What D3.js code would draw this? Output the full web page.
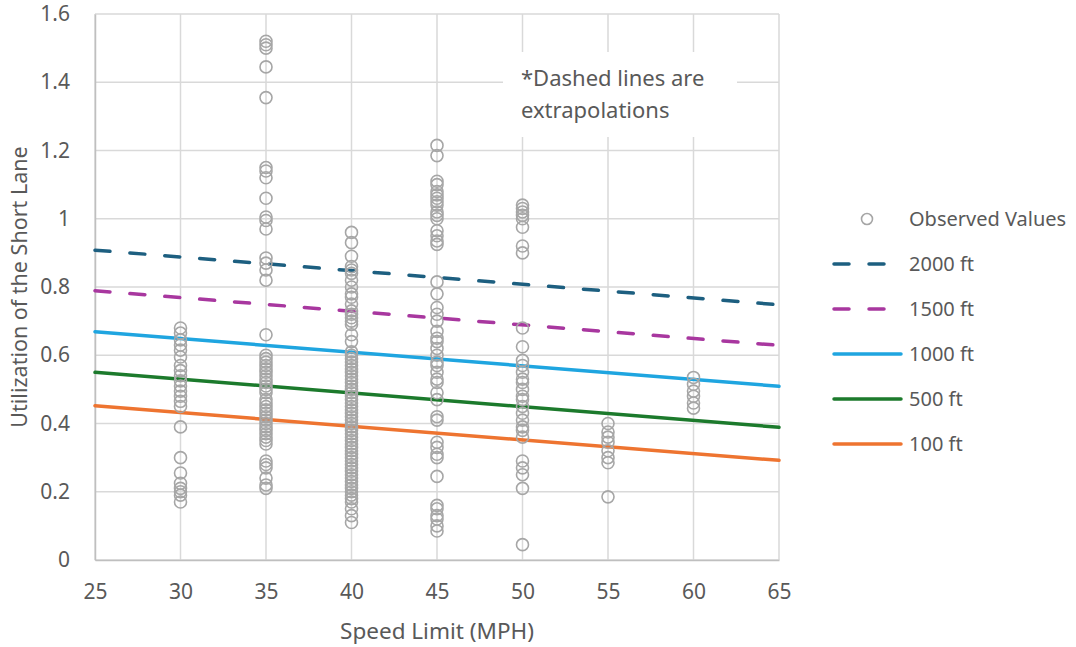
<!DOCTYPE html>
<html>
<head>
<meta charset="utf-8">
<script src="https://cdn.jsdelivr.net/npm/d3@7"></script>
<style>
  html, body { margin: 0; padding: 0; background: #ffffff; }
  svg { display: block; }
  text { font-family: "Noto Sans", "DejaVu Sans", sans-serif; fill: #595959; }
</style>
</head>
<body>
<svg id="chart" width="1076" height="647"></svg>
<script>
// Observed short-lane utilization, grouped by posted speed limit
const speeds = [30, 35, 40, 45, 50, 55, 60];
const obs30 = [0.68, 0.665, 0.645, 0.63, 0.615, 0.595, 0.57, 0.555, 0.54, 0.525, 0.51, 0.495, 0.48, 0.465, 0.45,
               0.39, 0.30, 0.255, 0.225, 0.21, 0.20, 0.19, 0.17];
const obs35 = [1.52, 1.51, 1.50, 1.445, 1.355, 1.15, 1.14, 1.12, 1.06, 1.005, 0.995, 0.97,
               0.885, 0.87, 0.85, 0.82, 0.66,
               0.60, 0.59, 0.58, 0.57, 0.56, 0.55, 0.54, 0.53, 0.52, 0.51, 0.50, 0.49,
               0.47, 0.46, 0.45, 0.44, 0.43, 0.42, 0.41, 0.40, 0.39, 0.38, 0.37, 0.36, 0.35, 0.34,
               0.29, 0.28, 0.27, 0.24, 0.22, 0.21];
const obs40 = [0.96, 0.93, 0.89, 0.86, 0.85, 0.84, 0.82, 0.80, 0.78, 0.77, 0.75, 0.73, 0.72, 0.71, 0.70, 0.69,
               0.66, 0.64, 0.61, 0.60, 0.59, 0.58, 0.57, 0.56, 0.55, 0.54, 0.53, 0.52, 0.51, 0.50, 0.49,
               0.48, 0.47, 0.46, 0.45, 0.44, 0.43, 0.42, 0.41, 0.40, 0.39, 0.38, 0.37, 0.36, 0.35, 0.34,
               0.33, 0.32, 0.31, 0.30, 0.29, 0.28, 0.27, 0.26, 0.25, 0.24, 0.23, 0.22, 0.21, 0.20, 0.19,
               0.18, 0.17, 0.15, 0.13, 0.11];
const obs45 = [1.215, 1.185, 1.11, 1.10, 1.08, 1.07, 1.06, 1.05, 1.04, 1.02, 1.01, 1.00,
               0.965, 0.95, 0.935, 0.925, 0.815, 0.78, 0.74, 0.72, 0.70,
               0.67, 0.65, 0.64, 0.62, 0.60, 0.58, 0.57, 0.55, 0.53, 0.52,
               0.49, 0.47, 0.42, 0.41, 0.345, 0.33, 0.31, 0.30, 0.245,
               0.16, 0.15, 0.13, 0.12, 0.10, 0.085];
const obs50 = [1.04, 1.03, 1.02, 1.01, 1.00, 0.975, 0.92, 0.90, 0.68, 0.625,
               0.585, 0.57, 0.55, 0.53, 0.52, 0.50, 0.48, 0.47, 0.45, 0.43, 0.41, 0.39, 0.38, 0.36,
               0.29, 0.27, 0.25, 0.21, 0.045];
const obs55 = [0.40, 0.375, 0.36, 0.345, 0.32, 0.30, 0.285, 0.185];
const obs60 = [0.535, 0.515, 0.495, 0.48, 0.46, 0.445];
const observed = [obs30, obs35, obs40, obs45, obs50, obs55, obs60];

// Fitted lines by storage length (value at 25 and 65 mph)
const lineNames = ["2000 ft", "1500 ft", "1000 ft", "500 ft", "100 ft"];
const lineAt25 = [0.908, 0.789, 0.669, 0.550, 0.452];
const lineAt65 = [0.748, 0.629, 0.509, 0.389, 0.292];
const lineColors = ["#1d5f80", "#a8379f", "#1fa5e0", "#1c7a2c", "#ee7430"];
const lineDashed = [true, true, false, false, false];

const xTicks = [25, 30, 35, 40, 45, 50, 55, 60, 65];
const yTicks = [0, 0.2, 0.4, 0.6, 0.8, 1, 1.2, 1.4, 1.6];

const svg = d3.select("#chart");
const x = d3.scaleLinear().domain([25, 65]).range([95, 779]);
const y = d3.scaleLinear().domain([0, 1.6]).range([560, 14]);

// Gridlines
const grid = svg.append("g");
grid.selectAll("line.h").data(yTicks).join("line")
  .attr("x1", x(25)).attr("x2", x(65))
  .attr("y1", d => y(d)).attr("y2", d => y(d))
  .attr("stroke", "#d9d9d9").attr("stroke-width", 1.5);
grid.selectAll("line.v").data(xTicks).join("line")
  .attr("y1", y(0)).attr("y2", y(1.6))
  .attr("x1", d => x(d)).attr("x2", d => x(d))
  .attr("stroke", "#d9d9d9").attr("stroke-width", 1.5);

// Axes (labels only; domain lines in a slightly darker grey)
const xAxis = svg.append("g").attr("transform", `translate(0,${y(0)})`)
  .call(d3.axisBottom(x).tickValues(xTicks).tickSize(0).tickPadding(24).tickFormat(d3.format("d")));
const yAxis = svg.append("g").attr("transform", `translate(${x(25)},0)`)
  .call(d3.axisLeft(y).tickValues(yTicks).tickSize(0).tickPadding(25).tickFormat(d => String(d)));
[xAxis, yAxis].forEach(a => {
  a.select(".domain").attr("stroke", "#bfbfbf").attr("stroke-width", 1.5);
  a.selectAll("text").style("font-size", "21px").attr("fill", "#595959")
    .style("font-family", '"Noto Sans", sans-serif');
});

// Annotation box
svg.append("rect").attr("x", 503).attr("y", 52).attr("width", 234).attr("height", 85).attr("fill", "#ffffff");
svg.append("text").attr("x", 521).attr("y", 86).style("font-size", "22px").text("*Dashed lines are");
svg.append("text").attr("x", 521).attr("y", 118).style("font-size", "22px").text("extrapolations");

// Fitted lines
const lineGen = d3.line().x(d => x(d[0])).y(d => y(d[1]));
svg.append("g").selectAll("path").data(lineNames).join("path")
  .attr("d", (d, i) => lineGen([[25, lineAt25[i]], [65, lineAt65[i]]]))
  .attr("fill", "none")
  .attr("stroke", (d, i) => lineColors[i])
  .attr("stroke-width", 3.5)
  .attr("stroke-linecap", "round")
  .attr("stroke-dasharray", (d, i) => lineDashed[i] ? "15 20" : null);

// Observed points
const points = [];
speeds.forEach((s, i) => observed[i].forEach(v => points.push([s, v])));
svg.append("g").selectAll("circle").data(points).join("circle")
  .attr("cx", d => x(d[0])).attr("cy", d => y(d[1])).attr("r", 6)
  .attr("fill", "none").attr("stroke", "#a6a6a6").attr("stroke-width", 1.6);

// Axis titles
svg.append("text").attr("x", (x(25) + x(65)) / 2).attr("y", 639).attr("text-anchor", "middle")
  .style("font-size", "22.5px").text("Speed Limit (MPH)");
svg.append("text").attr("transform", `translate(27,${y(0.8)}) rotate(-90)`).attr("text-anchor", "middle")
  .style("font-size", "21.5px").text("Utilization of the Short Lane");

// Legend
const legend = svg.append("g");
const legendY = 219, legendStep = 45;
legend.append("circle").attr("cx", 867).attr("cy", legendY).attr("r", 5.5)
  .attr("fill", "none").attr("stroke", "#a6a6a6").attr("stroke-width", 1.6);
legend.append("text").attr("x", 909).attr("y", legendY).attr("dy", "0.35em")
  .style("font-size", "20px").text("Observed Values");
lineNames.forEach((name, i) => {
  const ly = legendY + legendStep * (i + 1);
  legend.append("line").attr("x1", 834).attr("x2", 901).attr("y1", ly).attr("y2", ly)
    .attr("stroke", lineColors[i]).attr("stroke-width", 3.5).attr("stroke-linecap", "round")
    .attr("stroke-dasharray", lineDashed[i] ? "15 20" : null);
  legend.append("text").attr("x", 909).attr("y", ly).attr("dy", "0.35em")
    .style("font-size", "20px").text(name);
});
</script>
</body>
</html>
